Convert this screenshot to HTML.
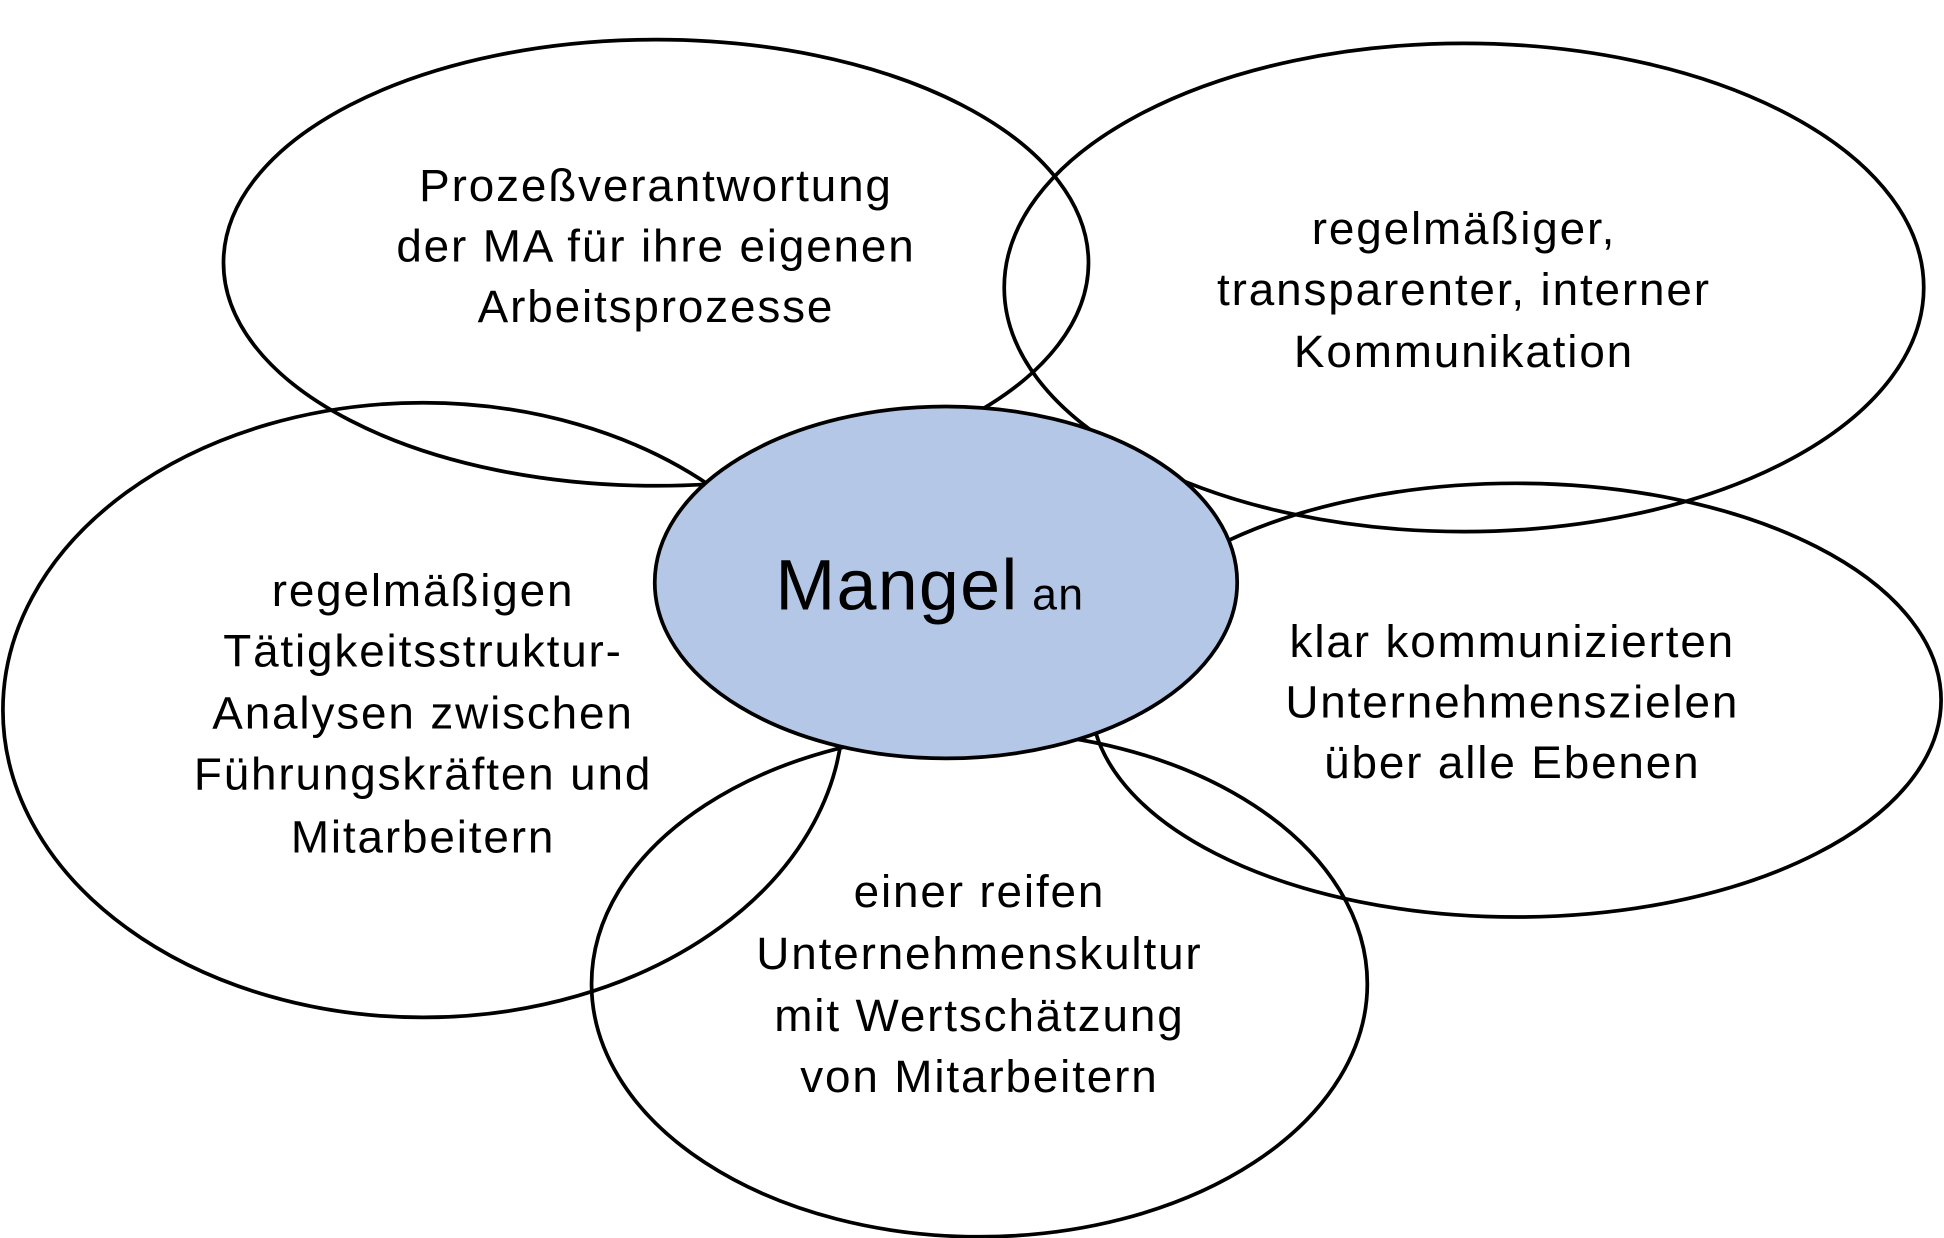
<!DOCTYPE html>
<html><head><meta charset="utf-8"><style>
html,body{margin:0;padding:0;background:#fff;}
svg{display:block;}
text{font-family:"Liberation Sans",Arial,sans-serif;fill:#000;text-anchor:middle;}
</style></head><body>
<svg width="1944" height="1238" viewBox="0 0 1568 999" xmlns="http://www.w3.org/2000/svg">
<g fill="none" stroke="#000" stroke-width="3">
<ellipse cx="529" cy="212" rx="349" ry="180"/>
<ellipse cx="1181" cy="232" rx="371" ry="197"/>
<ellipse cx="1223" cy="565" rx="343" ry="175"/>
<ellipse cx="341" cy="573" rx="339" ry="248"/>
<ellipse cx="790" cy="794" rx="313" ry="204"/>
</g>
<ellipse cx="763" cy="470" rx="235" ry="142" fill="#b4c7e7" stroke="#000" stroke-width="3"/>
<g font-size="37" letter-spacing="1.5">
<text x="529" y="162">Prozeßverantwortung</text>
<text x="529" y="211">der MA für ihre eigenen</text>
<text x="529" y="260">Arbeitsprozesse</text>
<text x="1181" y="197">regelmäßiger,</text>
<text x="1181" y="246">transparenter, interner</text>
<text x="1181" y="296">Kommunikation</text>
<text x="1220" y="530">klar kommunizierten</text>
<text x="1220" y="579">Unternehmenszielen</text>
<text x="1220" y="628">über alle Ebenen</text>
<text x="341" y="489">regelmäßigen</text>
<text x="341" y="538">Tätigkeitsstruktur-</text>
<text x="341" y="588">Analysen zwischen</text>
<text x="341" y="637">Führungskräften und</text>
<text x="341" y="688">Mitarbeitern</text>
<text x="790" y="732">einer reifen</text>
<text x="790" y="782">Unternehmenskultur</text>
<text x="790" y="832">mit Wertschätzung</text>
<text x="790" y="881">von Mitarbeitern</text>
</g>
<text x="750" y="492" font-size="58" letter-spacing="1"><tspan>Mangel</tspan><tspan font-size="36"> an</tspan></text>
</svg>
</body></html>
